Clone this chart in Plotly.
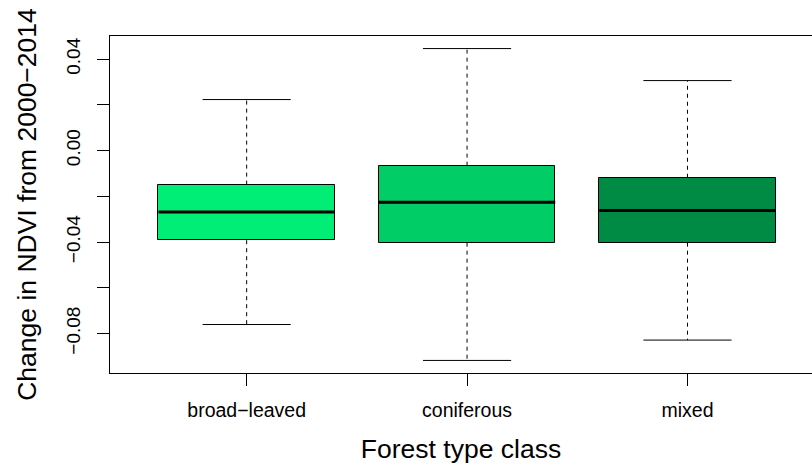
import plotly.graph_objects as go

# Summary statistics of NDVI change (2000-2014) per forest type class
categories = ["broad\u2212leaved", "coniferous", "mixed"]
lower_whisker = [-0.0761, -0.0918, -0.0829]
q1 = [-0.0392, -0.0403, -0.0403]
median = [-0.0269, -0.0226, -0.0262]
q3 = [-0.0149, -0.0066, -0.0119]
upper_whisker = [0.0223, 0.0446, 0.0306]
box_colors = ["#00EE76", "#00CD66", "#008B45"]

y_tickvals = [-0.08, -0.06, -0.04, -0.02, 0.00, 0.02, 0.04]
y_ticktext = ["\u22120.08", "", "\u22120.04", "", "0.00", "", "0.04"]

positions = [1, 2, 3]
box_width = 0.8
cap_half = box_width / 4

FONT = "Liberation Sans, Arial, Helvetica, sans-serif"

fig = go.Figure()

# dashed whiskers from the box edges out to the extremes
wx, wy = [], []
for p, lo, a, b, hi in zip(positions, lower_whisker, q1, q3, upper_whisker):
    wx += [p, p, None, p, p, None]
    wy += [b, hi, None, a, lo, None]
fig.add_trace(go.Scatter(x=wx, y=wy, mode="lines",
                         line=dict(color="black", width=1, dash="4px,4px"),
                         hoverinfo="skip", showlegend=False))

# whisker caps
cx, cy = [], []
for p, lo, hi in zip(positions, lower_whisker, upper_whisker):
    cx += [p - cap_half, p + cap_half, None, p - cap_half, p + cap_half, None]
    cy += [hi, hi, None, lo, lo, None]
fig.add_trace(go.Scatter(x=cx, y=cy, mode="lines",
                         line=dict(color="black", width=1),
                         hoverinfo="skip", showlegend=False))

# interquartile boxes
fig.add_trace(go.Bar(x=positions,
                     y=[b - a for a, b in zip(q1, q3)],
                     base=q1,
                     width=box_width,
                     marker=dict(color=box_colors,
                                 line=dict(color="black", width=1)),
                     showlegend=False))

# medians
mx, my = [], []
for p, m in zip(positions, median):
    mx += [p - box_width / 2, p + box_width / 2, None]
    my += [m, m, None]
fig.add_trace(go.Scatter(x=mx, y=my, mode="lines",
                         line=dict(color="black", width=3),
                         hoverinfo="skip", showlegend=False))

fig.update_layout(
    width=812, height=467,
    margin=dict(l=110, r=0, t=36, b=94),
    paper_bgcolor="white", plot_bgcolor="white",
    font=dict(family=FONT, color="black"),
    bargap=0,
    xaxis=dict(
        range=[0.38, 3.565],
        tickmode="array", tickvals=positions, ticktext=categories,
        tickfont=dict(size=19.5, color="black"),
        ticks="outside", ticklen=12, tickwidth=1, tickcolor="black",
        ticklabelstandoff=8,
        showline=True, linecolor="black", linewidth=1, mirror=True,
        showgrid=False, zeroline=False,
        title=dict(text="Forest type class", font=dict(size=26.5), standoff=19),
    ),
    yaxis=dict(
        range=[-0.0973, 0.0501],
        tickmode="array", tickvals=y_tickvals, ticktext=y_ticktext,
        tickangle=-90,
        tickfont=dict(size=19, color="black"),
        ticks="outside", ticklen=12, tickwidth=1, tickcolor="black",
        ticklabelstandoff=9,
        showline=True, linecolor="black", linewidth=1, mirror=False,
        showgrid=False, zeroline=False,
        title=dict(text="Change in NDVI from 2000\u22122014", font=dict(size=26.5), standoff=19),
    ),
)

fig.write_html("out.html")
